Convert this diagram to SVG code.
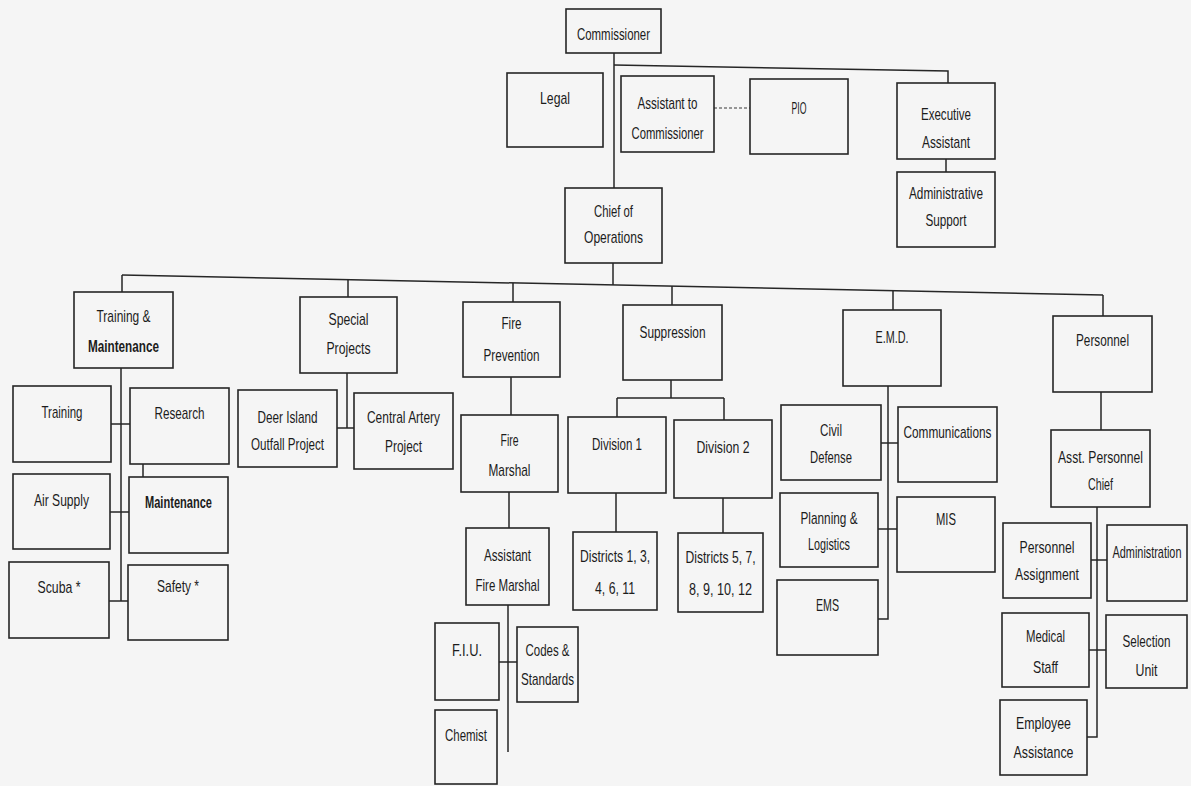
<svg xmlns="http://www.w3.org/2000/svg" width="1191" height="786" viewBox="0 0 1191 786">
<style>
.bg{fill:#f5f5f5}
.box{fill:none;stroke:#262626;stroke-width:1.6}
.lbl{font-family:"Liberation Sans",Arial,sans-serif;font-size:17px;fill:#1c1c1c;text-anchor:middle}
.b{font-weight:bold}
.ln{fill:none;stroke:#262626;stroke-width:1.5}
.dash{stroke-dasharray:3 2;stroke:#777}
</style>
<rect class="bg" x="0" y="0" width="1191" height="786"/>
<g id="connectors">
<path class="ln" d="M614 53V188"/>
<path class="ln" d="M614 65L948 71V83"/>
<path class="ln dash" d="M714 108H750"/>
<path class="ln" d="M946 159V172"/>
<path class="ln" d="M613 263V285"/>
<path class="ln" d="M122 275L1103 295"/>
<path class="ln" d="M122 275V292M348 279.6V297M513 283V302M672 286V305M893 291V310M1103 295V316"/>
<path class="ln" d="M121 368V601M111 424H130M110 512H129M109 601H128M143 464V477"/>
<path class="ln" d="M347 373V428M337 428H354"/>
<path class="ln" d="M511 377V415M509 492V528M508 605V752M499 662H517"/>
<path class="ln" d="M671 380V398M617 398H724M617 398V417M724 398V420M616 493V532M723 498V533"/>
<path class="ln" d="M888 386V619H878M881 443H898M878 529H897"/>
<path class="ln" d="M1101 392V430M1097 507V737H1087M1091 560H1107M1089 650H1106"/>
</g>
<g id="commissioner"><rect class="box" x="566" y="9" width="95" height="44"/><text class="lbl" x="613.5" y="40" textLength="73" lengthAdjust="spacingAndGlyphs">Commissioner</text></g>
<g id="legal"><rect class="box" x="507" y="73" width="96" height="74"/><text class="lbl" x="555" y="104" textLength="30" lengthAdjust="spacingAndGlyphs">Legal</text></g>
<g id="assistant-to-commissioner"><rect class="box" x="621" y="76" width="93" height="76"/><text class="lbl" x="667.5" y="109" textLength="60" lengthAdjust="spacingAndGlyphs">Assistant to</text><text class="lbl" x="667.5" y="139" textLength="72" lengthAdjust="spacingAndGlyphs">Commissioner</text></g>
<g id="pio"><rect class="box" x="750" y="79" width="98" height="75"/><text class="lbl" x="799" y="114" textLength="15" lengthAdjust="spacingAndGlyphs">PIO</text></g>
<g id="executive-assistant"><rect class="box" x="897" y="83" width="98" height="76"/><text class="lbl" x="946" y="120" textLength="50" lengthAdjust="spacingAndGlyphs">Executive</text><text class="lbl" x="946" y="148" textLength="48" lengthAdjust="spacingAndGlyphs">Assistant</text></g>
<g id="administrative-support"><rect class="box" x="897" y="172" width="98" height="75"/><text class="lbl" x="946" y="199" textLength="74" lengthAdjust="spacingAndGlyphs">Administrative</text><text class="lbl" x="946" y="226" textLength="41" lengthAdjust="spacingAndGlyphs">Support</text></g>
<g id="chief-of-operations"><rect class="box" x="565" y="188" width="97" height="75"/><text class="lbl" x="613.5" y="217" textLength="39" lengthAdjust="spacingAndGlyphs">Chief of</text><text class="lbl" x="613.5" y="243" textLength="59" lengthAdjust="spacingAndGlyphs">Operations</text></g>
<g id="training-maintenance"><rect class="box" x="74" y="292" width="99" height="76"/><text class="lbl" x="123.5" y="322" textLength="54" lengthAdjust="spacingAndGlyphs">Training &amp;</text><text class="lbl b" x="123.5" y="352" textLength="71" lengthAdjust="spacingAndGlyphs">Maintenance</text></g>
<g id="special-projects"><rect class="box" x="300" y="297" width="97" height="76"/><text class="lbl" x="348.5" y="325" textLength="40" lengthAdjust="spacingAndGlyphs">Special</text><text class="lbl" x="348.5" y="354" textLength="44" lengthAdjust="spacingAndGlyphs">Projects</text></g>
<g id="fire-prevention"><rect class="box" x="463" y="302" width="97" height="75"/><text class="lbl" x="511.5" y="329" textLength="20" lengthAdjust="spacingAndGlyphs">Fire</text><text class="lbl" x="511.5" y="361" textLength="56" lengthAdjust="spacingAndGlyphs">Prevention</text></g>
<g id="suppression"><rect class="box" x="623" y="305" width="99" height="75"/><text class="lbl" x="672.5" y="338" textLength="66" lengthAdjust="spacingAndGlyphs">Suppression</text></g>
<g id="emd"><rect class="box" x="843" y="310" width="98" height="76"/><text class="lbl" x="892" y="343" textLength="33" lengthAdjust="spacingAndGlyphs">E.M.D.</text></g>
<g id="personnel"><rect class="box" x="1053" y="316" width="99" height="76"/><text class="lbl" x="1102.5" y="346" textLength="53" lengthAdjust="spacingAndGlyphs">Personnel</text></g>
<g id="training"><rect class="box" x="13" y="386" width="98" height="76"/><text class="lbl" x="62" y="418" textLength="41" lengthAdjust="spacingAndGlyphs">Training</text></g>
<g id="research"><rect class="box" x="130" y="388" width="99" height="76"/><text class="lbl" x="179.5" y="419" textLength="50" lengthAdjust="spacingAndGlyphs">Research</text></g>
<g id="air-supply"><rect class="box" x="13" y="474" width="97" height="75"/><text class="lbl" x="61.5" y="506" textLength="55" lengthAdjust="spacingAndGlyphs">Air Supply</text></g>
<g id="maintenance"><rect class="box" x="129" y="477" width="99" height="76"/><text class="lbl b" x="178.5" y="508" textLength="67" lengthAdjust="spacingAndGlyphs">Maintenance</text></g>
<g id="scuba"><rect class="box" x="9" y="562" width="100" height="76"/><text class="lbl" x="59" y="593" textLength="43" lengthAdjust="spacingAndGlyphs">Scuba *</text></g>
<g id="safety"><rect class="box" x="128" y="565" width="100" height="75"/><text class="lbl" x="178" y="592" textLength="42" lengthAdjust="spacingAndGlyphs">Safety *</text></g>
<g id="deer-island"><rect class="box" x="238" y="390" width="99" height="77"/><text class="lbl" x="287.5" y="423" textLength="60" lengthAdjust="spacingAndGlyphs">Deer Island</text><text class="lbl" x="287.5" y="450" textLength="73" lengthAdjust="spacingAndGlyphs">Outfall Project</text></g>
<g id="central-artery"><rect class="box" x="354" y="393" width="99" height="76"/><text class="lbl" x="403.5" y="423" textLength="73" lengthAdjust="spacingAndGlyphs">Central Artery</text><text class="lbl" x="403.5" y="452" textLength="37" lengthAdjust="spacingAndGlyphs">Project</text></g>
<g id="fire-marshal"><rect class="box" x="461" y="415" width="97" height="77"/><text class="lbl" x="509.5" y="446" textLength="18" lengthAdjust="spacingAndGlyphs">Fire</text><text class="lbl" x="509.5" y="476" textLength="42" lengthAdjust="spacingAndGlyphs">Marshal</text></g>
<g id="assistant-fire-marshal"><rect class="box" x="466" y="528" width="83" height="77"/><text class="lbl" x="507.5" y="561" textLength="47" lengthAdjust="spacingAndGlyphs">Assistant</text><text class="lbl" x="507.5" y="591" textLength="64" lengthAdjust="spacingAndGlyphs">Fire Marshal</text></g>
<g id="division-1"><rect class="box" x="568" y="417" width="98" height="76"/><text class="lbl" x="617" y="450" textLength="50" lengthAdjust="spacingAndGlyphs">Division 1</text></g>
<g id="division-2"><rect class="box" x="674" y="420" width="98" height="78"/><text class="lbl" x="723" y="453" textLength="53" lengthAdjust="spacingAndGlyphs">Division 2</text></g>
<g id="districts-1"><rect class="box" x="573" y="532" width="84" height="78"/><text class="lbl" x="615" y="562" textLength="70" lengthAdjust="spacingAndGlyphs">Districts 1, 3,</text><text class="lbl" x="615" y="594" textLength="40" lengthAdjust="spacingAndGlyphs">4, 6, 11</text></g>
<g id="districts-2"><rect class="box" x="678" y="533" width="85" height="79"/><text class="lbl" x="720.5" y="563" textLength="70" lengthAdjust="spacingAndGlyphs">Districts 5, 7,</text><text class="lbl" x="720.5" y="595" textLength="63" lengthAdjust="spacingAndGlyphs">8, 9, 10, 12</text></g>
<g id="fiu"><rect class="box" x="435" y="623" width="64" height="77"/><text class="lbl" x="467" y="656" textLength="30" lengthAdjust="spacingAndGlyphs">F.I.U.</text></g>
<g id="codes-standards"><rect class="box" x="517" y="627" width="61" height="75"/><text class="lbl" x="547.5" y="656" textLength="44" lengthAdjust="spacingAndGlyphs">Codes &amp;</text><text class="lbl" x="547.5" y="685" textLength="53" lengthAdjust="spacingAndGlyphs">Standards</text></g>
<g id="chemist"><rect class="box" x="435" y="710" width="62" height="74"/><text class="lbl" x="466" y="741" textLength="42" lengthAdjust="spacingAndGlyphs">Chemist</text></g>
<g id="civil-defense"><rect class="box" x="781" y="405" width="100" height="75"/><text class="lbl" x="831" y="436" textLength="22" lengthAdjust="spacingAndGlyphs">Civil</text><text class="lbl" x="831" y="463" textLength="42" lengthAdjust="spacingAndGlyphs">Defense</text></g>
<g id="communications"><rect class="box" x="898" y="407" width="99" height="75"/><text class="lbl" x="947.5" y="438" textLength="88" lengthAdjust="spacingAndGlyphs">Communications</text></g>
<g id="planning-logistics"><rect class="box" x="780" y="493" width="98" height="74"/><text class="lbl" x="829" y="524" textLength="57" lengthAdjust="spacingAndGlyphs">Planning &amp;</text><text class="lbl" x="829" y="550" textLength="42" lengthAdjust="spacingAndGlyphs">Logistics</text></g>
<g id="mis"><rect class="box" x="897" y="497" width="98" height="75"/><text class="lbl" x="946" y="525" textLength="20" lengthAdjust="spacingAndGlyphs">MIS</text></g>
<g id="ems"><rect class="box" x="777" y="580" width="101" height="75"/><text class="lbl" x="827.5" y="611" textLength="23" lengthAdjust="spacingAndGlyphs">EMS</text></g>
<g id="asst-personnel-chief"><rect class="box" x="1051" y="430" width="99" height="77"/><text class="lbl" x="1100.5" y="463" textLength="85" lengthAdjust="spacingAndGlyphs">Asst. Personnel</text><text class="lbl" x="1100.5" y="490" textLength="25" lengthAdjust="spacingAndGlyphs">Chief</text></g>
<g id="personnel-assignment"><rect class="box" x="1003" y="523" width="88" height="75"/><text class="lbl" x="1047" y="553" textLength="55" lengthAdjust="spacingAndGlyphs">Personnel</text><text class="lbl" x="1047" y="580" textLength="64" lengthAdjust="spacingAndGlyphs">Assignment</text></g>
<g id="administration"><rect class="box" x="1107" y="525" width="80" height="76"/><text class="lbl" transform="translate(1147 558) scale(0.64 1)" x="0" y="0">Administration</text></g>
<g id="medical-staff"><rect class="box" x="1002" y="613" width="87" height="74"/><text class="lbl" x="1045.5" y="642" textLength="39" lengthAdjust="spacingAndGlyphs">Medical</text><text class="lbl" x="1045.5" y="673" textLength="25" lengthAdjust="spacingAndGlyphs">Staff</text></g>
<g id="selection-unit"><rect class="box" x="1106" y="615" width="81" height="73"/><text class="lbl" x="1146.5" y="647" textLength="48" lengthAdjust="spacingAndGlyphs">Selection</text><text class="lbl" x="1146.5" y="676" textLength="22" lengthAdjust="spacingAndGlyphs">Unit</text></g>
<g id="employee-assistance"><rect class="box" x="1000" y="700" width="87" height="75"/><text class="lbl" x="1043.5" y="729" textLength="55" lengthAdjust="spacingAndGlyphs">Employee</text><text class="lbl" x="1043.5" y="758" textLength="60" lengthAdjust="spacingAndGlyphs">Assistance</text></g>
</svg>
